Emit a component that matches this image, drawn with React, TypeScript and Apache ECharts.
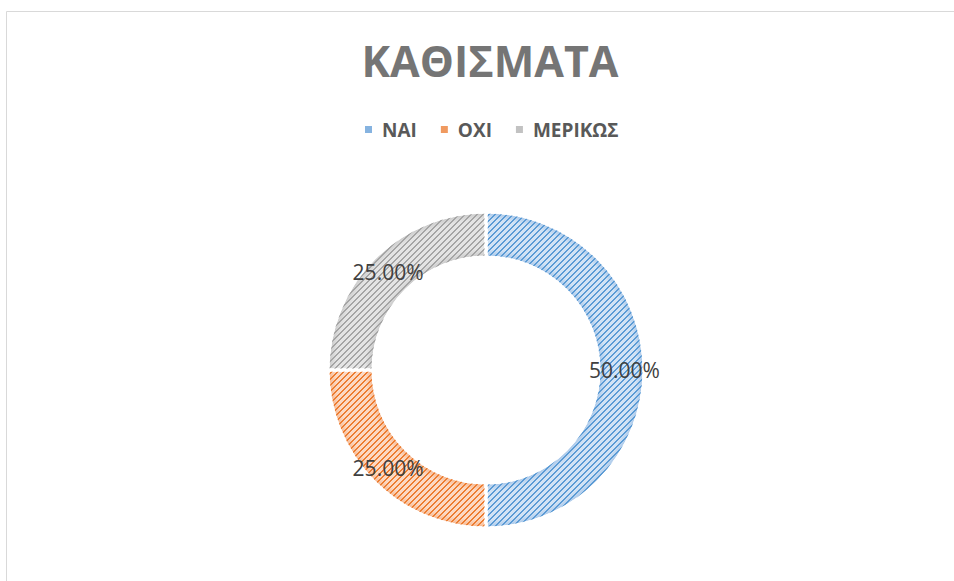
import React, { useEffect, useRef } from 'react';
import * as echarts from 'echarts';

const titleText = 'ΚΑΘΙΣΜΑΤΑ';
const categories = ['ΝΑΙ', 'ΟΧΙ', 'ΜΕΡΙΚΩΣ'];
const values = [50, 25, 25];
const stripeColors = ['#5b9bd5', '#ed7d31', '#a5a5a5'];
const lightColors = ['#d2e3f5', '#fcd9c3', '#e4e4e4'];
const edgeColors = ['#a3c4e8', '#f5b48a', '#c6c6c6'];
const legendColors = ['#86b3e0', '#f09a60', '#c2c2c2'];

function hexToRgb(h: string) {
  const n = parseInt(h.slice(1), 16);
  return [(n >> 16) & 255, (n >> 8) & 255, n & 255];
}

function makeStripe(color: string) {
  const P = 6;
  const c = document.createElement('canvas');
  c.width = P;
  c.height = P;
  const ctx = c.getContext('2d')!;
  const img = ctx.createImageData(P, P);
  const [r, g, b] = hexToRgb(color);
  for (let y = 0; y < P; y++) {
    for (let x = 0; x < P; x++) {
      const i = (y * P + x) * 4;
      const m = (x + y) % P;
      img.data[i] = r;
      img.data[i + 1] = g;
      img.data[i + 2] = b;
      img.data[i + 3] = m < 2 ? 255 : 0;
    }
  }
  ctx.putImageData(img, 0, 0);
  return c;
}

const CX = 486;
const CY = 370;
const R0 = 113;
const R1 = 158;

export default function App() {
  const ref = useRef<HTMLDivElement>(null);
  useEffect(() => {
    if (!ref.current) return;
    const chart = echarts.init(ref.current, undefined, { renderer: 'svg' });
    const k = R0 / R1;
    const gradData = categories.map((name, i) => ({
      name,
      value: values[i],
      itemStyle: {
        color: {
          type: 'radial',
          x: CX,
          y: CY,
          r: R1,
          global: true,
          colorStops: [
            { offset: 0, color: edgeColors[i] },
            { offset: k, color: edgeColors[i] },
            { offset: k + 0.05, color: lightColors[i] },
            { offset: 0.95, color: lightColors[i] },
            { offset: 1, color: edgeColors[i] },
          ],
        },
      },
    }));
    const patData = categories.map((name, i) => ({
      name,
      value: values[i],
      itemStyle: {
        color: { image: makeStripe(stripeColors[i]), repeat: 'repeat' },
      },
    }));
    chart.setOption({
      animation: false,
      title: {
        text: titleText,
        left: 485,
        top: 34,
        textAlign: 'center',
        textStyle: {
          fontFamily: 'Open Sans',
          fontWeight: 'bold',
          fontSize: 43,
          color: '#757575',
        },
      },
      legend: {
        top: 120,
        left: 363,
        padding: 0,
        selectedMode: false,
        icon: 'rect',
        itemWidth: 9,
        itemHeight: 9,
        itemGap: 22,
        data: categories.map((n, i) => ({ name: n, itemStyle: { color: legendColors[i] } })),
        textStyle: {
          fontFamily: 'Open Sans',
          fontWeight: 'bold',
          fontSize: 19,
          color: '#595959',
          padding: [0, 0, 0, 4],
        },
      },
      graphic: [
        {
          type: 'rect',
          shape: { x: 6.5, y: 11.5, width: 2000, height: 2000 },
          style: { fill: 'none', stroke: '#d9d9d9', lineWidth: 1 },
          silent: true,
        },
      ],
      series: [
        {
          type: 'pie',
          center: [CX, CY],
          radius: [R0, R1],
          startAngle: 90,
          clockwise: true,
          silent: true,
          label: { show: false },
          labelLine: { show: false },
          itemStyle: { borderColor: '#ffffff', borderWidth: 3 },
          data: gradData,
        },
        {
          type: 'pie',
          center: [CX, CY],
          radius: [R0, R1],
          startAngle: 90,
          clockwise: true,
          silent: true,
          itemStyle: { borderColor: '#ffffff', borderWidth: 3 },
          label: {
            show: true,
            position: 'inside',
            fontFamily: 'Open Sans',
            fontSize: 21,
            color: '#404040',
            formatter: (p: any) => p.percent.toFixed(2) + '%',
          },
          labelLine: { show: false },
          data: patData,
        },
      ],
    });
    return () => chart.dispose();
  }, []);
  return (
    <div
      ref={ref}
      style={{ position: 'fixed', left: 0, top: 0, width: 954, height: 581, background: '#ffffff' }}
    />
  );
}
